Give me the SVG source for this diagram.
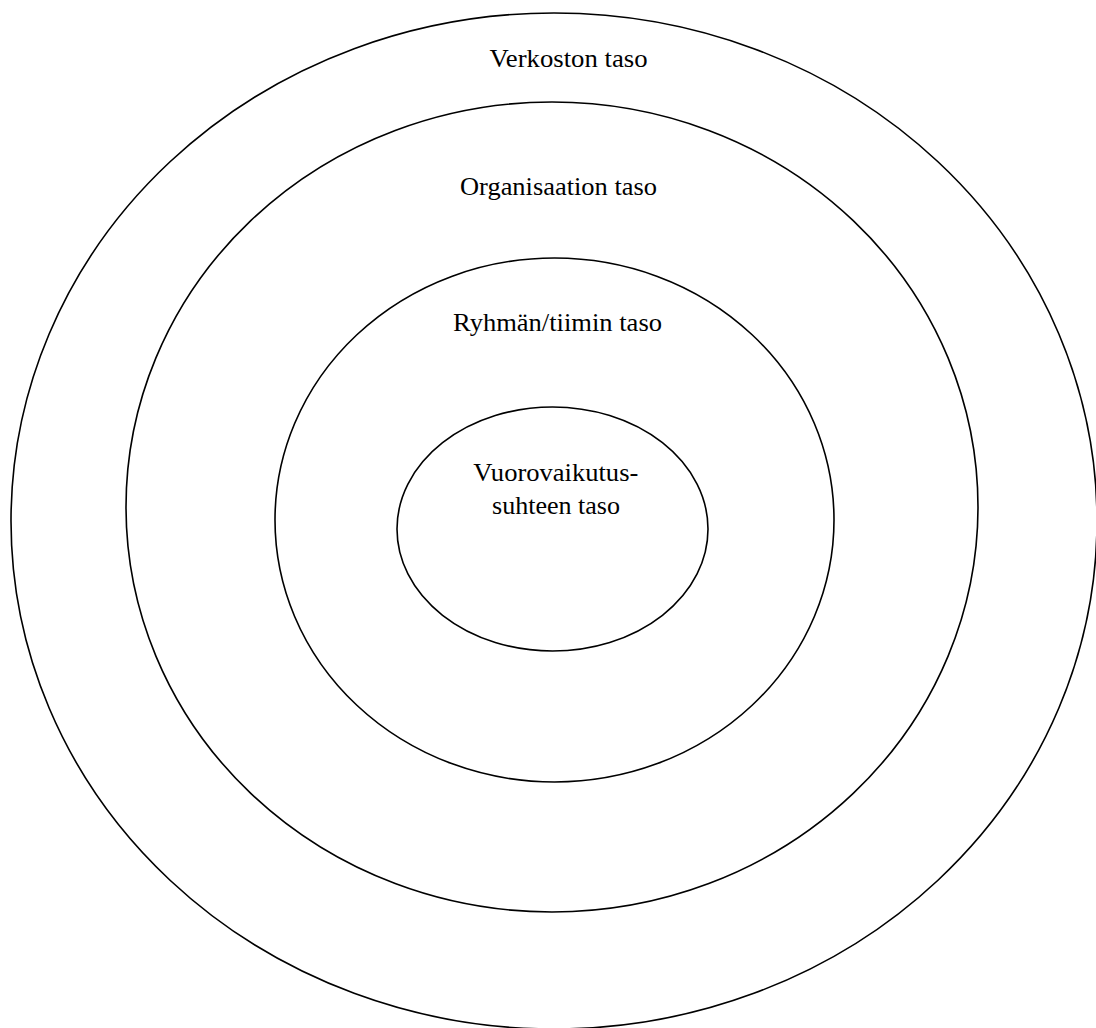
<svg xmlns="http://www.w3.org/2000/svg" width="1096" height="1028" viewBox="0 0 1096 1028">
<style>
.ring{fill:none;stroke:#000;stroke-width:1.6}
.lbl{font-family:"Liberation Serif","Times New Roman",serif;font-size:26px;fill:#000;text-anchor:middle}
</style>
<rect width="1096" height="1028" fill="#fff"/>
<g id="verkosto">
<ellipse class="ring" cx="554" cy="521" rx="543" ry="508"/>
<text class="lbl" x="568.5" y="67" textLength="158" lengthAdjust="spacingAndGlyphs">Verkoston taso</text>
</g>
<g id="organisaatio">
<ellipse class="ring" cx="552" cy="507" rx="426" ry="405"/>
<text class="lbl" x="558.5" y="195" textLength="197" lengthAdjust="spacingAndGlyphs">Organisaation taso</text>
</g>
<g id="ryhma">
<ellipse class="ring" cx="554.5" cy="520" rx="279.5" ry="262"/>
<text class="lbl" x="557.5" y="331" textLength="209" lengthAdjust="spacingAndGlyphs">Ryhmän/tiimin taso</text>
</g>
<g id="vuorovaikutus">
<ellipse class="ring" cx="552.5" cy="529" rx="155.5" ry="122"/>
<text class="lbl" x="555.8" y="481" textLength="165" lengthAdjust="spacingAndGlyphs">Vuorovaikutus-</text>
<text class="lbl" x="556" y="514" textLength="128" lengthAdjust="spacingAndGlyphs">suhteen taso</text>
</g>
<g id="connectors"/>
</svg>
